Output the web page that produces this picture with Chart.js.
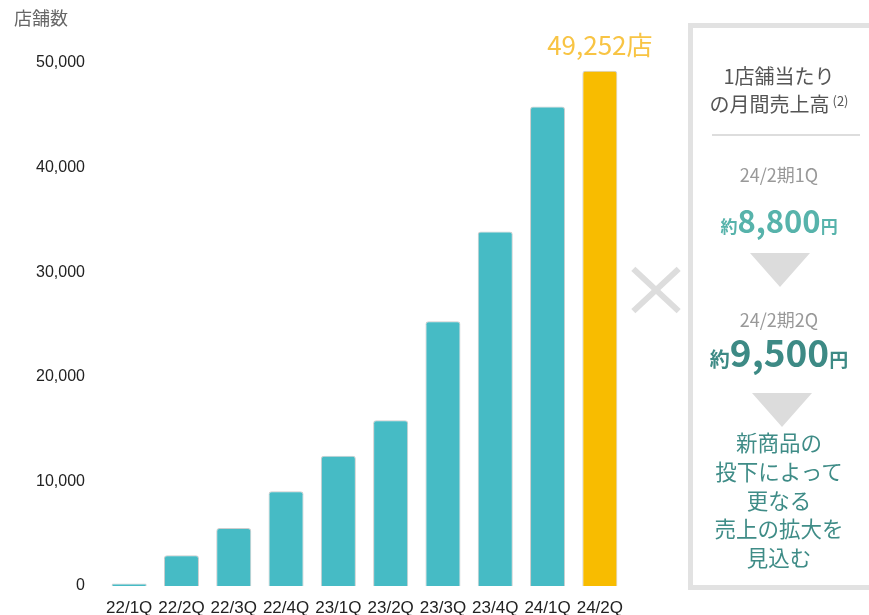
<!DOCTYPE html>
<html lang="ja">
<head>
<meta charset="utf-8">
<script src="https://cdn.jsdelivr.net/npm/chart.js@4.4.1/dist/chart.umd.min.js"></script>
<style>
  html, body { margin: 0; padding: 0; background: #fff; }
  #wrap { position: relative; width: 869px; height: 615px; overflow: hidden; font-family: "Noto Sans CJK JP", "Noto Sans", sans-serif; }
  #chart { position: absolute; left: 0; top: 0; }
  .abs { position: absolute; white-space: nowrap; }
  #ytitle { left: 14px; top: 4px; font-size: 18px; color: #666; }
  #panel { left: 688px; top: 23px; width: 200px; height: 557px; border: 5px solid #e2e2e2; box-sizing: content-box; }
  .c { position: absolute; left: 688px; width: 182px; text-align: center; white-space: nowrap; }
  .tri { position: absolute; width: 0; height: 0; border-left: 30px solid transparent; border-right: 30px solid transparent; border-top: 34px solid #dcdcdc; }
  .xbar { position: absolute; left: 625px; top: 287px; width: 62px; height: 6px; background: #dddddd; }
</style>
</head>
<body>
<div id="wrap">
  <canvas id="chart" width="869" height="615"></canvas>
  <div id="ytitle" class="abs">店舗数</div>

  <div id="panel" class="abs"></div>
  <div class="c" style="top:63px; font-size:20px; line-height:25px; color:#555;">1店舗当たり<br>の月間売上高<span style="font-size:13px; vertical-align:6px; margin-left:3px;">(2)</span></div>
  <div class="abs" style="left:712px; top:134px; width:148px; height:2px; background:#dddddd;"></div>
  <div class="c" style="top:162px; font-size:18px; line-height:24px; color:#999;">24/2期1Q</div>
  <div class="c" style="top:198px; line-height:44px; color:#57b3ab; font-weight:bold;"><span style="font-size:17px;">約</span><span style="font-size:31px;">8,800</span><span style="font-size:17px;">円</span></div>
  <div class="tri" style="left:750px; top:253px;"></div>
  <div class="c" style="top:307px; font-size:18px; line-height:24px; color:#999;">24/2期2Q</div>
  <div class="c" style="top:327px; line-height:48px; color:#3d8a85; font-weight:bold;"><span style="font-size:20px;">約</span><span style="font-size:37px;">9,500</span><span style="font-size:19px;">円</span></div>
  <div class="tri" style="left:752px; top:393px;"></div>
  <div class="c" style="top:428px; font-size:21.5px; line-height:28.8px; color:#3f8c87;">新商品の<br>投下によって<br>更なる<br>売上の拡大を<br>見込む</div>

  <div class="xbar" style="transform: rotate(43deg);"></div>
  <div class="xbar" style="transform: rotate(-43deg);"></div>
</div>
<script>
const categories = ["22/1Q","22/2Q","22/3Q","22/4Q","23/1Q","23/2Q","23/3Q","23/4Q","24/1Q","24/2Q"];
const storeCounts = [250, 2950, 5550, 9050, 12450, 15850, 25300, 33900, 45850, 49252];
const barColors = ["#46bbc5","#46bbc5","#46bbc5","#46bbc5","#46bbc5","#46bbc5","#46bbc5","#46bbc5","#46bbc5","#f8bc00"];
const highlightLabel = "49,252店";
const yMax = 50000;
const yStep = 10000;

const labelPlugin = {
  id: 'lastLabel',
  afterDatasetsDraw(chart) {
    const meta = chart.getDatasetMeta(0);
    const el = meta.data[meta.data.length - 1];
    const ctx = chart.ctx;
    ctx.save();
    ctx.font = '26px "Noto Sans CJK JP", "Noto Sans", sans-serif';
    ctx.fillStyle = '#f8c444';
    ctx.textAlign = 'center';
    ctx.textBaseline = 'middle';
    ctx.fillText(highlightLabel, el.x, el.y - 26);
    ctx.restore();
  }
};

new Chart(document.getElementById('chart'), {
  type: 'bar',
  data: {
    labels: categories,
    datasets: [{
      data: storeCounts,
      backgroundColor: barColors,
      borderColor: 'rgba(130,130,130,0.4)',
      borderWidth: 1,
      borderRadius: { topLeft: 3, topRight: 3 },
      borderSkipped: 'bottom',
      barPercentage: 0.67,
      categoryPercentage: 1
    }]
  },
  options: {
    responsive: false,
    devicePixelRatio: 1,
    animation: false,
    layout: { padding: { left: 0, top: 63, right: 243, bottom: 0 } },
    plugins: { legend: { display: false }, tooltip: { enabled: false } },
    scales: {
      x: {
        grid: { display: false },
        border: { display: false },
        ticks: { color: '#222', font: { family: '"Liberation Sans", Arial, sans-serif', size: 17 }, padding: 4, maxRotation: 0, autoSkip: false },
        afterFit(scale) { scale.height = 29; }
      },
      y: {
        min: 0, max: yMax,
        grid: { display: false },
        border: { display: false },
        ticks: { stepSize: yStep, color: '#222', font: { family: '"Liberation Sans", Arial, sans-serif', size: 16 }, padding: 10 },
        afterFit(scale) { scale.width = 103; }
      }
    }
  },
  plugins: [labelPlugin]
});
</script>
</body>
</html>
